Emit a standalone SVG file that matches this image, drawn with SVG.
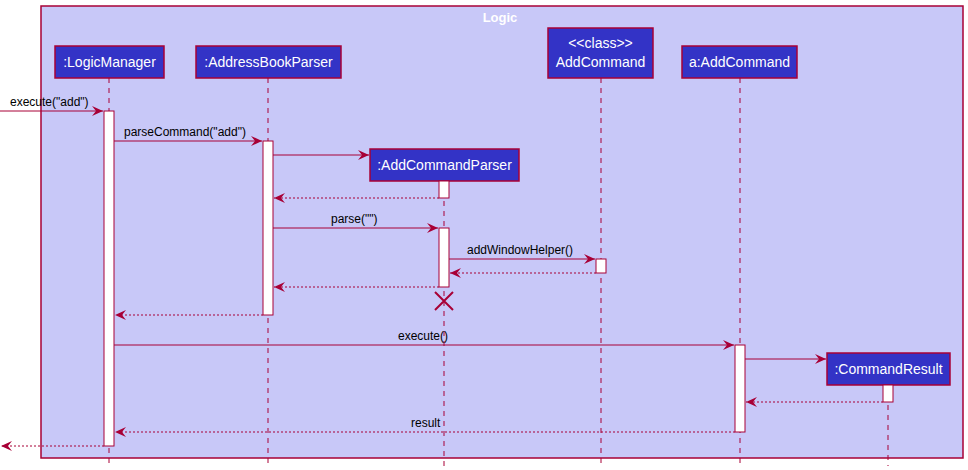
<svg xmlns="http://www.w3.org/2000/svg" width="968" height="470" viewBox="0 0 968 470">
<style>
.p{fill:#3333c6;stroke:#a80036;stroke-width:1.5}
.pt{fill:#fff;font-family:"Liberation Sans",Arial,sans-serif;font-size:14px;text-anchor:middle}
.ll{stroke:#a80036;stroke-width:1;stroke-dasharray:5,5}
.act{fill:#fff;stroke:#a80036;stroke-width:1}
.m{stroke:#a80036;stroke-width:1;fill:none;marker-end:url(#a)}
.r{stroke:#a80036;stroke-width:1;fill:none;stroke-dasharray:2,2;marker-end:url(#a)}
.l{font-family:"Liberation Sans",Arial,sans-serif;font-size:12px;fill:#000}
</style>
<defs><marker id="a" markerWidth="12" markerHeight="10" refX="11" refY="5" orient="auto" markerUnits="userSpaceOnUse"><path d="M0,0 L11,5 L0,10 L4,5 Z" fill="#a80036"/></marker></defs>
<rect x="41" y="6" width="922" height="452" fill="#c8c8f8" stroke="#a80036" stroke-width="1.5"/>
<text x="500" y="22" class="pt" style="font-weight:bold;font-size:13px">Logic</text>
<g id="lifelines">
<line class="ll" x1="109" y1="78" x2="109" y2="466"/>
<line class="ll" x1="268" y1="78" x2="268" y2="466"/>
<line class="ll" x1="444" y1="181" x2="444" y2="466"/>
<line class="ll" x1="601" y1="78" x2="601" y2="466"/>
<line class="ll" x1="740" y1="78" x2="740" y2="466"/>
<line class="ll" x1="888" y1="385" x2="888" y2="466"/>
</g>
<g id="LogicManager"><rect class="p" x="55" y="46" width="109" height="32"/><text class="pt" x="109.5" y="67">:LogicManager</text></g>
<g id="AddressBookParser"><rect class="p" x="196" y="46" width="145" height="32"/><text class="pt" x="268.5" y="67">:AddressBookParser</text></g>
<g id="AddCommandClass"><rect class="p" x="548" y="28" width="105" height="50"/><text class="pt" x="600.5" y="48">&lt;&lt;class&gt;&gt;</text><text class="pt" x="600.5" y="67">AddCommand</text></g>
<g id="aAddCommand"><rect class="p" x="682" y="46" width="115" height="32"/><text class="pt" x="739.5" y="67">a:AddCommand</text></g>
<g id="AddCommandParser"><rect class="p" x="370" y="149" width="149" height="32"/><text class="pt" x="444.5" y="170">:AddCommandParser</text></g>
<g id="CommandResult"><rect class="p" x="827" y="353" width="123" height="32"/><text class="pt" x="888.5" y="374">:CommandResult</text></g>
<g id="activations">
<rect class="act" x="104" y="111" width="10" height="335"/>
<rect class="act" x="263" y="141" width="10" height="174"/>
<rect class="act" x="439" y="181" width="10" height="17"/>
<rect class="act" x="439" y="228" width="10" height="59"/>
<rect class="act" x="596" y="259" width="10" height="14"/>
<rect class="act" x="735" y="345" width="10" height="87"/>
<rect class="act" x="883" y="385" width="10" height="17"/>
</g>
<g id="connectors">
<line class="m" x1="0" y1="111" x2="103" y2="111"/><text class="l" x="10" y="106">execute("add")</text>
<line class="m" x1="114" y1="141" x2="262" y2="141"/><text class="l" x="124" y="136">parseCommand("add")</text>
<line class="m" x1="273" y1="155" x2="369" y2="155"/>
<line class="r" x1="439" y1="198" x2="274" y2="198"/>
<line class="m" x1="273" y1="228" x2="438" y2="228"/><text class="l" x="331" y="223">parse("")</text>
<line class="m" x1="449" y1="259" x2="595" y2="259"/><text class="l" x="467" y="254">addWindowHelper()</text>
<line class="r" x1="596" y1="273" x2="450" y2="273"/>
<line class="r" x1="439" y1="287" x2="274" y2="287"/>
<path d="M435,292 L453,310 M453,292 L435,310" stroke="#a80036" stroke-width="2"/>
<line class="r" x1="263" y1="315" x2="115" y2="315"/>
<line class="m" x1="114" y1="345" x2="734" y2="345"/><text class="l" x="398" y="340">execute()</text>
<line class="m" x1="745" y1="359" x2="826" y2="359"/>
<line class="r" x1="883" y1="402" x2="746" y2="402"/>
<line class="r" x1="735" y1="432" x2="115" y2="432"/><text class="l" x="411" y="427">result</text>
<line class="r" x1="104" y1="446" x2="1" y2="446"/>
</g>
</svg>
